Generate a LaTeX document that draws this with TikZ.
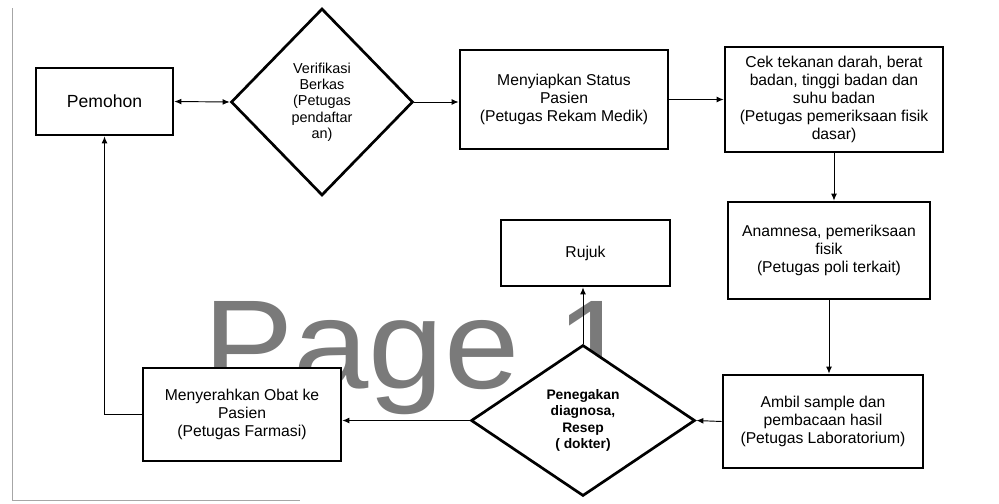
\documentclass[tikz,border=0pt]{standalone}
\usepackage{fontspec}
\setmainfont{Liberation Sans}
\usetikzlibrary{shapes.geometric,arrows.meta}

\begin{document}
\begin{tikzpicture}[x=0.03cm,y=-0.03cm,>={Latex[length=6pt,width=5pt]},
    box/.style={draw,line width=2.3pt,fill=white,align=center,inner sep=2pt,
        font=\fontsize{13.4}{15.5}\selectfont},
    decision/.style={draw,diamond,line width=2.3pt,fill=white,align=center,inner sep=0pt},
    flow/.style={->,line width=0.8pt}]
    \useasboundingbox (0,0) rectangle (999,504);

    % Page edge
    \draw[gray!70,line width=0.6pt] (12,8) -- (12,500) -- (300,500);

    % Watermark
    \node[anchor=base west,inner sep=0pt,xscale=1.07,transform shape,text=black!52,font=\fontsize{108}{108}\selectfont] (wmark) at (203,388) {Page 1};

    % Steps
    \node[box,minimum width=4.11cm,minimum height=2.01cm,font=\fontsize{15}{17}\selectfont] (pemohon) at (104.5,101.5) {Pemohon};
    \node[decision,minimum width=5.46cm,minimum height=5.61cm,font=\fontsize{12.3}{13.9}\selectfont] (verif) at (322,102)
        {Verifikasi\\Berkas\\(Petugas\\pendaftar\\an)};
    \node[box,minimum width=6.24cm,minimum height=2.97cm] (status) at (564,99.5)
        {Menyiapkan Status\\Pasien\\(Petugas Rekam Medik)};
    \node[box,minimum width=6.54cm,minimum height=3.15cm] (cek) at (834,99.5)
        {Cek tekanan darah, berat\\badan, tinggi badan dan\\suhu badan\\(Petugas pemeriksaan fisik\\dasar)};
    \node[box,minimum width=6.06cm,minimum height=2.91cm] (anamnesa) at (829,250.5)
        {Anamnesa, pemeriksaan\\fisik\\(Petugas poli terkait)};
    \node[box,minimum width=6.0cm,minimum height=2.79cm] (lab) at (823,421.5)
        {Ambil sample dan\\pembacaan hasil\\(Petugas Laboratorium)};
    \node[decision,minimum width=6.72cm,minimum height=4.53cm,font=\bfseries\fontsize{11.8}{13.8}\selectfont] (diagnosa) at (583,420.5)
        {Penegakan\\diagnosa,\\Resep\\( dokter)};
    \node[box,minimum width=5.07cm,minimum height=1.98cm] (rujuk) at (585.5,253) {Rujuk};
    \node[box,minimum width=5.94cm,minimum height=2.79cm] (farmasi) at (242,414.5)
        {Menyerahkan Obat ke\\Pasien\\(Petugas Farmasi)};

    % Connectors
    \draw[flow,<->] (pemohon.east) -- (verif.west);
    \draw[flow] (verif.east) -- (verif.east -| status.west);
    \draw[flow] (status.east) -- (cek.west);
    \draw[flow] (cek.south) -- (cek.south |- anamnesa.north);
    \draw[flow] (anamnesa.south) -- (anamnesa.south |- lab.north);
    \draw[flow] (lab.west) -- (diagnosa.east);
    \draw[flow] (diagnosa.north) -- (diagnosa.north |- rujuk.south);
    \draw[flow] (diagnosa.west) -- (diagnosa.west -| farmasi.east);
    \draw[flow] (farmasi.west) -| (pemohon.south);
\end{tikzpicture}
\end{document}
